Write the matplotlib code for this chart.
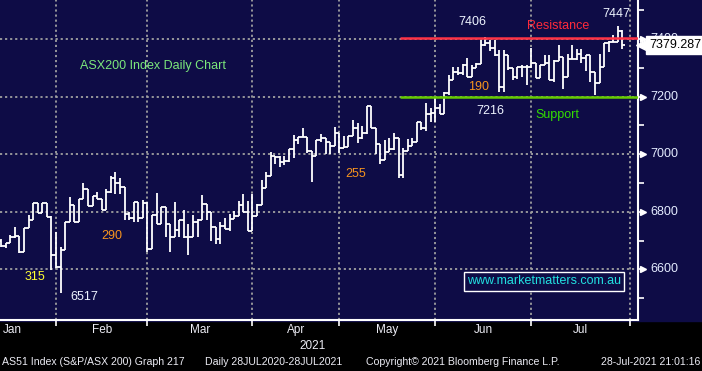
import numpy as np
import pandas as pd
import matplotlib
matplotlib.use('Agg')
import matplotlib.pyplot as plt
from matplotlib.transforms import blended_transform_factory

# ASX200 daily bars, 12 Jan 2021 - 28 Jul 2021
opens = [6700, 6680, 6690, 6713, 6715, 6661, 6742, 6771, 6829, 6797,
         6829, 6783, 6650, 6609, 6667, 6765, 6823, 6765, 6843, 6878,
         6820, 6855, 6843, 6806, 6870, 6916, 6900, 6885, 6794, 6780,
         6835, 6777, 6831, 6672, 6788, 6759, 6815, 6759, 6711, 6736,
         6771, 6711, 6711, 6765, 6771, 6827, 6800, 6746, 6706, 6752,
         6740, 6775, 6787, 6822, 6798, 6735, 6784, 6824, 6883, 6926,
         6995, 6990, 6972, 6976, 7019, 7051, 7061, 7061, 7013, 6995,
         7050, 7056, 7041, 7029, 7075, 7021, 7025, 7064, 7090, 7056,
         7075, 7168, 7090, 7037, 6979, 7009, 7017, 7058, 6927, 7012,
         7029, 7041, 7112, 7090, 7140, 7142, 7159, 7139, 7212, 7258,
         7287, 7281, 7310, 7270, 7298, 7312, 7380, 7385, 7368, 7345,
         7235, 7345, 7298, 7270, 7304, 7304, 7304, 7316, 7264, 7310,
         7316, 7258, 7325, 7337, 7270, 7330, 7330, 7350, 7333, 7345,
         7287, 7249, 7304, 7385, 7391, 7391, 7428]
highs = [6705, 6690, 6719, 6748, 6715, 6742, 6788, 6829, 6829, 6829,
         6829, 6785, 6730, 6678, 6765, 6850, 6823, 6843, 6899, 6878,
         6855, 6870, 6843, 6880, 6925, 6939, 6916, 6885, 6800, 6835,
         6835, 6840, 6835, 6788, 6864, 6817, 6815, 6759, 6835, 6771,
         6806, 6759, 6788, 6776, 6858, 6806, 6800, 6747, 6763, 6780,
         6791, 6803, 6838, 6861, 6838, 6861, 6826, 6911, 6937, 7007,
         6995, 6995, 6995, 7019, 7068, 7061, 7092, 7061, 6995, 7050,
         7069, 7056, 7041, 7094, 7075, 7064, 7064, 7118, 7110, 7098,
         7168, 7168, 7090, 7037, 7049, 7058, 7075, 7058, 7023, 7052,
         7058, 7112, 7112, 7177, 7160, 7200, 7175, 7217, 7275, 7304,
         7304, 7312, 7333, 7310, 7316, 7397, 7406, 7397, 7397, 7362,
         7362, 7345, 7298, 7304, 7310, 7310, 7368, 7316, 7310, 7345,
         7345, 7327, 7380, 7337, 7350, 7380, 7365, 7365, 7345, 7345,
         7287, 7350, 7385, 7395, 7415, 7447, 7433]
lows = [6676, 6673, 6690, 6710, 6657, 6661, 6742, 6771, 6797, 6797,
        6783, 6597, 6603, 6517, 6667, 6765, 6765, 6765, 6843, 6820,
        6820, 6843, 6806, 6830, 6867, 6862, 6862, 6771, 6771, 6765,
        6765, 6777, 6660, 6672, 6759, 6759, 6713, 6660, 6711, 6711,
        6709, 6649, 6711, 6713, 6771, 6771, 6700, 6688, 6688, 6740,
        6734, 6775, 6798, 6798, 6735, 6735, 6818, 6824, 6883, 6926,
        6967, 6955, 6963, 6972, 6988, 7034, 7061, 7006, 6903, 6995,
        7041, 7002, 7002, 7029, 7006, 7021, 7025, 7064, 7040, 7052,
        7071, 7090, 7000, 6965, 6979, 7012, 7014, 6917, 6917, 7012,
        7029, 7041, 7083, 7080, 7113, 7113, 7139, 7139, 7206, 7258,
        7275, 7275, 7270, 7270, 7298, 7312, 7375, 7358, 7340, 7217,
        7216, 7293, 7258, 7262, 7270, 7240, 7298, 7264, 7264, 7310,
        7258, 7252, 7323, 7225, 7270, 7330, 7327, 7318, 7291, 7252,
        7206, 7249, 7304, 7355, 7391, 7391, 7366]
closes = [6680, 6690, 6713, 6715, 6661, 6742, 6771, 6829, 6797, 6829,
          6783, 6650, 6609, 6667, 6765, 6823, 6765, 6843, 6878, 6820,
          6855, 6843, 6806, 6870, 6916, 6900, 6885, 6794, 6780, 6835,
          6777, 6831, 6672, 6788, 6759, 6815, 6759, 6711, 6736, 6771,
          6711, 6711, 6765, 6771, 6827, 6800, 6746, 6706, 6752, 6740,
          6775, 6787, 6822, 6798, 6735, 6784, 6824, 6883, 6926, 6995,
          6990, 6972, 6976, 7019, 7051, 7061, 7061, 7013, 6995, 7050,
          7056, 7041, 7029, 7075, 7021, 7025, 7064, 7090, 7056, 7075,
          7168, 7090, 7037, 6979, 7009, 7017, 7058, 6927, 7012, 7029,
          7041, 7112, 7090, 7140, 7142, 7159, 7139, 7212, 7258, 7287,
          7281, 7310, 7270, 7298, 7312, 7380, 7385, 7368, 7345, 7235,
          7345, 7298, 7270, 7304, 7304, 7304, 7316, 7264, 7310, 7316,
          7258, 7325, 7337, 7270, 7330, 7330, 7350, 7333, 7345, 7287,
          7249, 7304, 7385, 7391, 7391, 7428, 7379.287]

resistance = 7403
support = 7200
month_names = ['Jan', 'Feb', 'Mar', 'Apr', 'May', 'Jun', 'Jul']
price_ticks = [6600, 6800, 7000, 7200, 7400]
holidays = ['2021-01-26', '2021-04-02', '2021-04-05', '2021-04-26', '2021-06-14']

# trading calendar -> bar index (first bar = 12 Jan)
days = pd.bdate_range('2021-01-04', '2021-07-28').drop(pd.to_datetime(holidays))
first = days.get_loc(pd.Timestamp('2021-01-12'))
pos = np.arange(len(days)) - first
month_first = [pos[days.month == m][0] for m in range(1, 8)]
edges = [p - 1 for p in month_first] + [len(closes) + 0.7]

navy = '#0e0c46'
fig = plt.figure(figsize=(7.02, 3.71), dpi=100, facecolor='black')
fig.patches.append(plt.Rectangle((0, 50 / 371), 1, 1, transform=fig.transFigure,
                                 color=navy, zorder=-1))
ax = fig.add_axes([0, 51 / 371, 638 / 702, 320 / 371])
ax.set_facecolor(navy)
ax.set_xlim(-0.26, 139.4)
ax.set_ylim(6424, 7536)

# grid
for e in edges[1:]:
    ax.axvline(e, color='#a0a0a0', lw=1.3, linestyle=(0, (1.2, 1.6)), zorder=1)
for t in price_ticks:
    ax.axhline(t, color='#a0a0a0', lw=1.3, linestyle=(0, (1.2, 1.6)), zorder=1)

# OHLC bars
x = np.arange(len(closes))
o = np.array(opens)
c = np.array(closes)
lo = np.minimum.reduce([np.array(lows), o, c])
hi = np.maximum.reduce([np.array(highs), o, c])
ax.vlines(x, lo, hi, color='white', lw=1.3, zorder=3)
ax.hlines(o, x - 0.5, x, color='white', lw=1.3, zorder=3)
ax.hlines(c, x, x + 0.5, color='white', lw=1.3, zorder=3)

# support / resistance
ax.hlines(resistance, 87.3, 139.4, color='#ff3345', lw=1.8, zorder=4)
ax.hlines(support, 87.3, 139.4, color='#66cc00', lw=1.8, zorder=4)

# spines and ticks
for s in ['left', 'top']:
    ax.spines[s].set_visible(False)
for s in ['right', 'bottom']:
    ax.spines[s].set_color('white')
    ax.spines[s].set_linewidth(1.5)
ax.set_xticks(edges[1:])
ax.set_xticklabels([])
ax.tick_params(axis='x', direction='out', length=4, color='white', width=1.2)
ax.yaxis.tick_right()
ax.set_yticks(price_ticks)
ax.set_yticks(np.arange(6500, 7600, 100), minor=True)
ax.set_yticklabels([])
ax.tick_params(axis='y', which='both', direction='out', length=4, color='white', width=1.2)

lab = dict(family='Liberation Sans', fontsize=9)
ytr = blended_transform_factory(ax.transAxes, ax.transData)
for t in price_ticks:
    ax.plot(1.008, t, marker='>', ms=4.5, color='white', transform=ytr, clip_on=False)
    ax.text(1.019, t, str(t), color='#e4ecff', va='center', ha='left', transform=ytr, **lab)

# last price box
ax.plot(1.006, closes[-1], marker='<', ms=9, color='white', transform=ytr, clip_on=False, zorder=6)
ax.text(1.017, closes[-1], f'{closes[-1]:.3f}', color='black', va='center', ha='left',
        transform=ytr, zorder=7,
        bbox=dict(boxstyle='square,pad=0.22', fc='white', ec='white'), **lab)

# month labels
xtr = blended_transform_factory(ax.transData, ax.transAxes)
jan_edge = month_first[0] - 1
mids = [(a + b) / 2 for a, b in zip([jan_edge] + edges[1:-1], edges[1:])]
narrow = dict(family=['Liberation Sans Narrow', 'Liberation Sans'], color='#ececf4')
for m, name in zip(mids, month_names):
    ax.text(m, -0.03, name, transform=xtr, ha='center', va='center', fontsize=8.5, **narrow)
ax.text(0.49, -0.082, '2021', transform=ax.transAxes, ha='center', va='center', fontsize=8.5, **narrow)

fig.text(2 / 702, 9 / 371, 'AS51 Index (S&P/ASX 200) Graph 217',
         ha='left', va='center', fontsize=7.6, **narrow)
fig.text(205 / 702, 9 / 371, 'Daily 28JUL2020-28JUL2021',
         ha='left', va='center', fontsize=7.6, **narrow)
fig.text(366 / 702, 9 / 371, 'Copyright\u00a9 2021 Bloomberg Finance L.P.',
         ha='left', va='center', fontsize=7.6, **narrow)
fig.text(700 / 702, 9 / 371, '28-Jul-2021 21:01:16',
         ha='right', va='center', fontsize=7.6, **narrow)

# annotations
ax.text(17.25, 7307, 'ASX200 Index Daily Chart', color='#7ce87c', ha='left', va='center', **lab)
ax.text(7.3, 6573, '315', color='#ffff33', ha='center', va='center', **lab)
ax.text(18.1, 6504, '6517', color='#eef4ff', ha='center', va='center', **lab)
ax.text(24.15, 6716, '290', color='#f7941e', ha='center', va='center', **lab)
ax.text(77.6, 6931, '255', color='#f7941e', ha='center', va='center', **lab)
ax.text(104.4, 7234, '190', color='#f7941e', ha='center', va='center', **lab)
ax.text(103.1, 7460, '7406', color='#eef4ff', ha='center', va='center', **lab)
ax.text(107.0, 7150, '7216', color='#eef4ff', ha='center', va='center', **lab)
ax.text(122.0, 7446, 'Resistance', color='#ff2a3a', ha='center', va='center', **lab)
ax.text(121.8, 7136, 'Support', color='#33dd00', ha='center', va='center', **lab)
ax.text(134.7, 7487, '7447', color='#eef4ff', ha='center', va='center', **lab)
ax.text(118.9, 6558, 'www.marketmatters.com.au', color='#22e0e0', ha='center', va='center',
        bbox=dict(boxstyle='square,pad=0.25', fc=navy, ec='white', lw=1.0), zorder=5, **lab)

fig.savefig('out.png', dpi=100, facecolor=fig.get_facecolor())
